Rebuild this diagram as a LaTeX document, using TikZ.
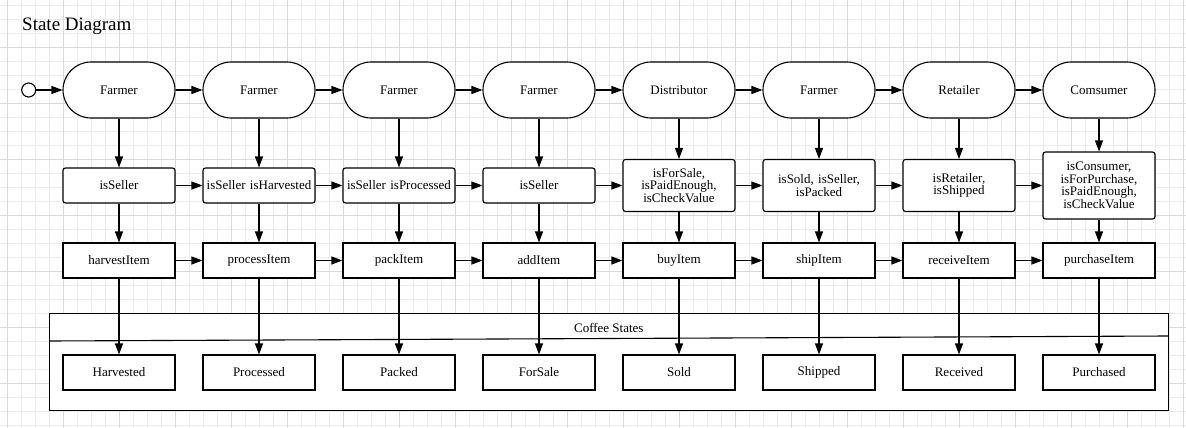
\documentclass[tikz,border=0pt]{standalone}
\usepackage{fontspec}
\setmainfont{Liberation Serif}
\usetikzlibrary{arrows.meta}
\begin{document}
\begin{tikzpicture}[x=1pt,y=-1pt,
  base/.style={draw=black, line width=1.1pt, fill=white,
    font=\fontsize{13}{12.5}\selectfont, align=center,
    inner sep=1.5pt, text width=109pt, minimum width=112pt},
  actor/.style={base, rounded corners=28pt, minimum height=56pt},
  guard/.style={base, rounded corners=2.5pt},
  action/.style={base, minimum height=35pt},
  cstate/.style={base, minimum height=35pt},
  flow/.style={draw=black, line width=1.1pt, -{Triangle[length=11pt,width=8pt]}},
  minorgrid/.style={draw=black!8, line width=0.7pt},
  majorgrid/.style={draw=black!15, line width=0.8pt},
]
\useasboundingbox (0,0) rectangle (1186,428);

% background grid
\foreach \k in {0,...,84} \draw[minorgrid] ({7.3+14*\k},0) -- ({7.3+14*\k},428);
\foreach \k in {0,...,30} \draw[minorgrid] (0,{5+14*\k}) -- (1186,{5+14*\k});
\foreach \k in {0,...,21} \draw[majorgrid] ({7.3+56*\k},0) -- ({7.3+56*\k},428);
\foreach \k in {0,...,7} \draw[majorgrid] (0,{-9+56*\k}) -- (1186,{-9+56*\k});

% title
\node[anchor=base west, inner sep=0, font=\fontsize{19}{22}\selectfont] (title) at (22,31) {State Diagram};

% container for the coffee states
\draw[line width=1.1pt, fill=white] (49.3,313.3) rectangle (1168.3,410.7);
\draw[line width=1.1pt] (49.3,341) -- (1168.3,336);
\node[font=\fontsize{13}{12.5}\selectfont] (cs) at (608.8,327.5) {Coffee States};

% initial state
\node[circle, draw=black, line width=1.1pt, fill=white, minimum size=14pt, inner sep=0pt] (init) at (28.7,90) {};

% actors
\foreach [count=\i] \who in {Farmer,Farmer,Farmer,Farmer,Distributor,Farmer,Retailer,Comsumer}
  \node[actor] (a\i) at ({119+140*(\i-1)},90) {\who};

% guard conditions
\foreach [count=\i] \h/\txt in {
    35/{isSeller},
    35/{isSeller isHarvested},
    35/{isSeller isProcessed},
    35/{isSeller},
    52/{isForSale,\\isPaidEnough,\\isCheckValue},
    52/{isSold, isSeller,\\isPacked},
    52/{isRetailer,\\isShipped},
    67/{isConsumer,\\isForPurchase,\\isPaidEnough,\\isCheckValue}}
  \node[guard, minimum height=\h pt] (g\i) at ({119+140*(\i-1)},185.5) {\txt};

% actions
\foreach [count=\i] \act in {harvestItem,processItem,packItem,addItem,buyItem,shipItem,receiveItem,purchaseItem}
  \node[action] (p\i) at ({119+140*(\i-1)},260.5) {\act};

% resulting coffee states
\foreach [count=\i] \st in {Harvested,Processed,Packed,ForSale,Sold,Shipped,Received,Purchased}
  \node[cstate] (s\i) at ({119+140*(\i-1)},372.5) {\st};

% connectors
\draw[flow] (init) -- (a1);
\foreach \i in {1,...,8} {
  \draw[flow] (a\i) -- (g\i);
  \draw[flow] (g\i) -- (p\i);
  \draw[flow] (p\i) -- (s\i);
}
\foreach \i in {1,...,7} {
  \pgfmathtruncatemacro{\j}{\i+1}
  \draw[flow] (a\i) -- (a\j);
  \draw[flow] (g\i.east |- 0,185.5) -- (g\j.west |- 0,185.5);
  \draw[flow] (p\i) -- (p\j);
}
\end{tikzpicture}
\end{document}
